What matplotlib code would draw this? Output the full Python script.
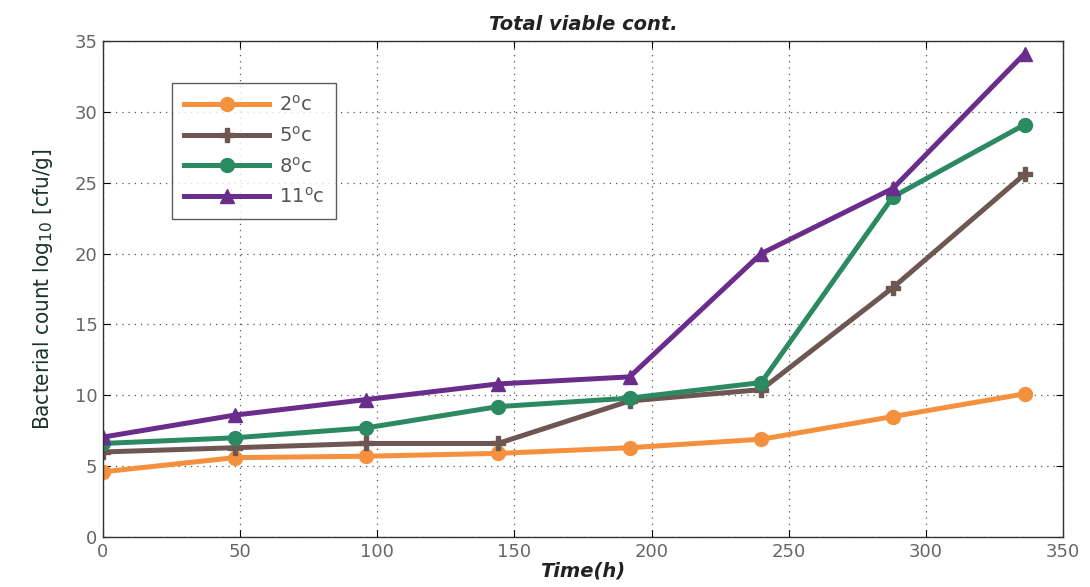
import matplotlib
matplotlib.use("Agg")
import matplotlib.pyplot as plt

# Storage time (hours) and total viable count (log10 cfu/g) at each temperature
time_h = [0, 48, 96, 144, 192, 240, 288, 336]
count_2c = [4.6, 5.6, 5.7, 5.9, 6.3, 6.9, 8.5, 10.1]
count_5c = [6.0, 6.3, 6.6, 6.6, 9.6, 10.4, 17.6, 25.6]
count_8c = [6.6, 7.0, 7.7, 9.2, 9.8, 10.9, 24.0, 29.1]
count_11c = [7.05, 8.6, 9.7, 10.8, 11.3, 20.0, 24.6, 34.1]

labels = ["2$^{\\mathrm{o}}$c", "5$^{\\mathrm{o}}$c", "8$^{\\mathrm{o}}$c", "11$^{\\mathrm{o}}$c"]
colors = ["#f5913e", "#6e5752", "#2b8a62", "#6b2d8c"]
markers = ["o", "P", "o", "^"]

fig = plt.figure(figsize=(10.9, 5.87), dpi=100)
ax = fig.add_axes([103 / 1090, 1 - 537 / 587, 960 / 1090, 496 / 587])

series = [count_2c, count_5c, count_8c, count_11c]
for vals, lab, col, mk in zip(series, labels, colors, markers):
    ax.plot(time_h, vals, color=col, lw=3.6, marker=mk, ms=10,
            markerfacecolor=col, markeredgecolor=col, label=lab)

ax.set_xlim(0, 350)
ax.set_ylim(0, 35)
ax.set_xticks(range(0, 351, 50))
ax.set_yticks(range(0, 36, 5))
ax.grid(True, linestyle=(0, (1, 4)), color="#555555", linewidth=0.9)
ax.tick_params(direction="in", length=5, labelsize=13, labelcolor="#666666",
               top=True, right=True, pad=4)
for sp in ax.spines.values():
    sp.set_color("#333333")
    sp.set_linewidth(1.0)

ax.set_title("Total viable cont.", fontsize=14, fontweight="heavy",
             fontstyle="italic", pad=8, color="#222222")
ax.set_xlabel("Time(h)", fontsize=14, fontweight="heavy", fontstyle="italic",
              labelpad=1, color="#222222")
ax.set_ylabel("Bacterial count log$_{10}$ [cfu/g]", fontsize=16,
              fontfamily="DejaVu Sans", fontstretch="condensed",
              color="#1a3328", labelpad=14)

leg = ax.legend(loc="upper left", bbox_to_anchor=(0.072, 0.915),
                borderaxespad=0, frameon=True, fancybox=False,
                edgecolor="#333333", handlelength=4.4, handletextpad=0.5,
                borderpad=0.6, labelspacing=0.55, prop={"size": 14})
leg.get_frame().set_linewidth(1.0)
for t in leg.get_texts():
    t.set_color("#555555")

fig.savefig("out.png", dpi=100)
